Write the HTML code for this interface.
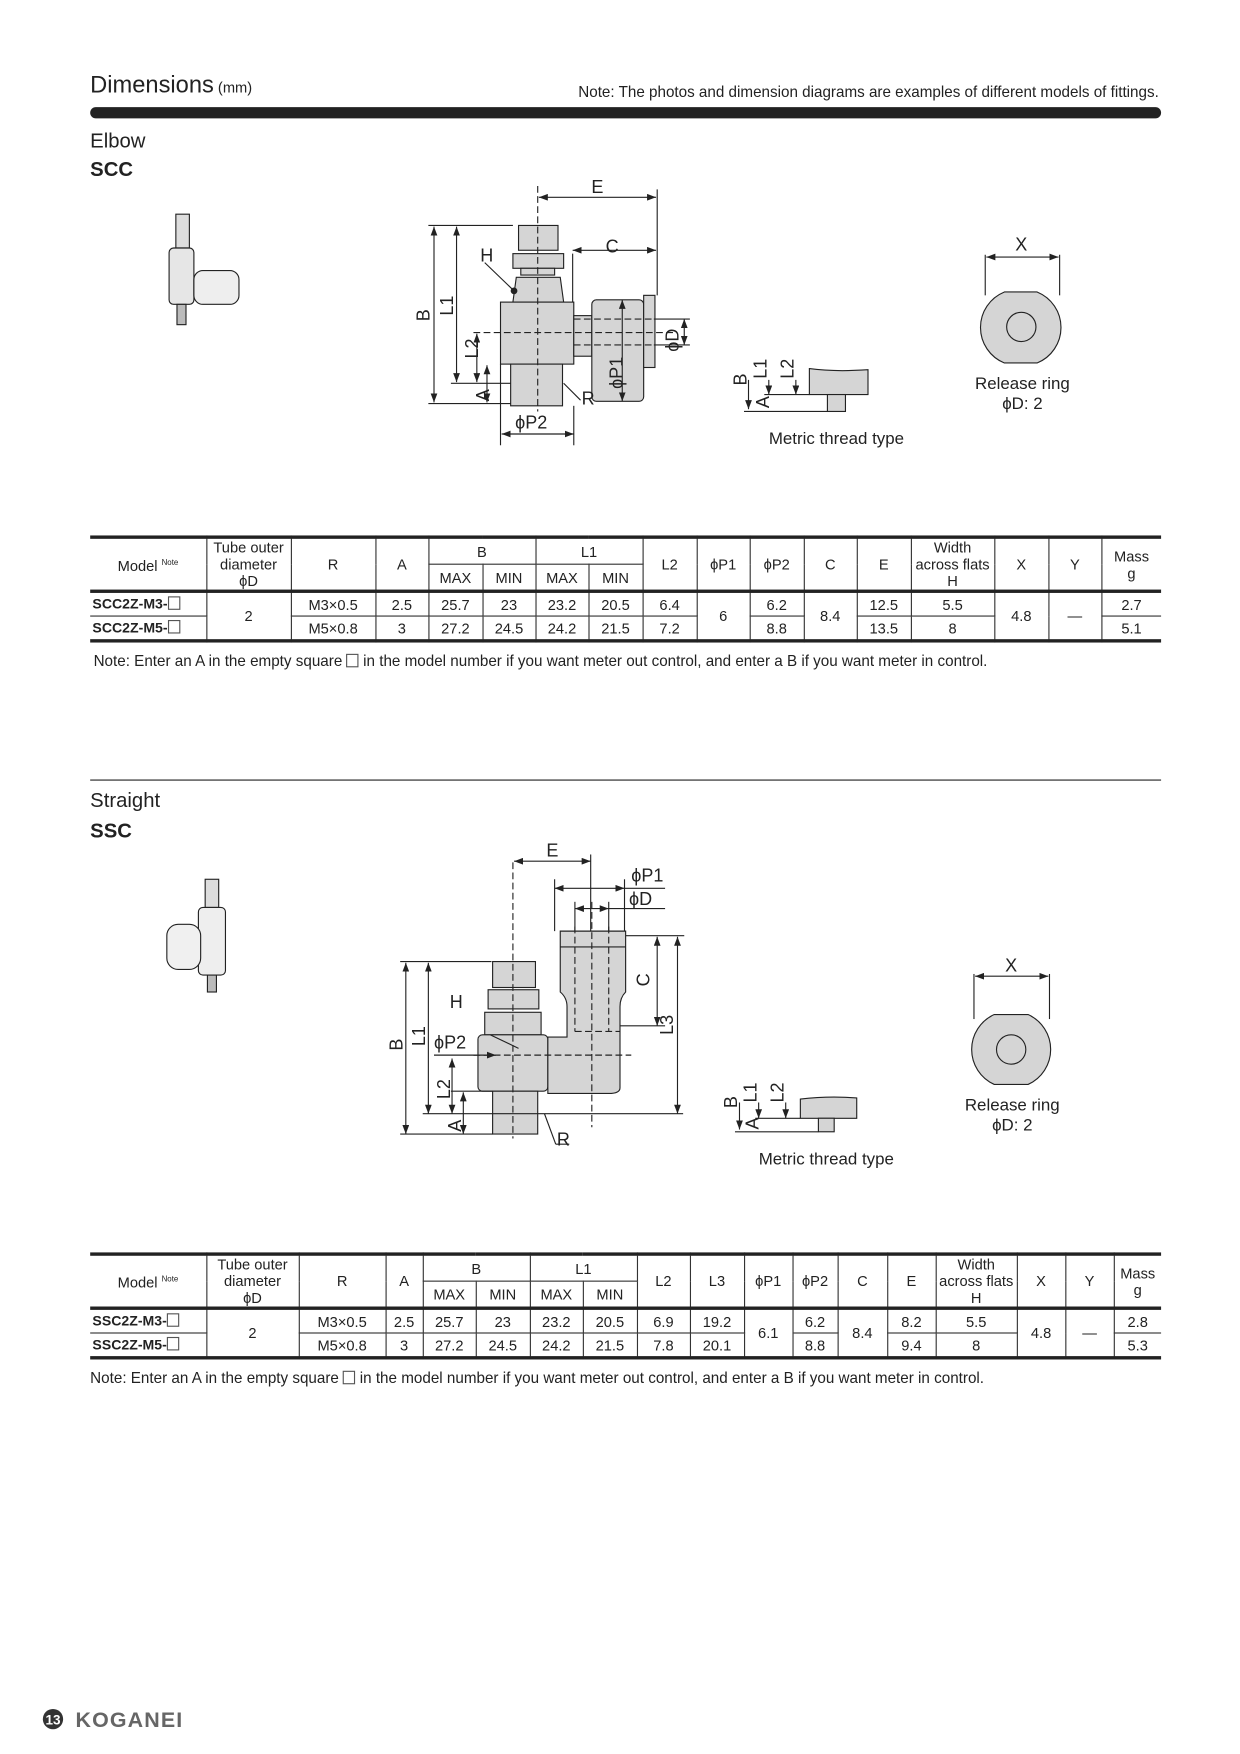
<!DOCTYPE html>
<html><head><meta charset="utf-8">
<style>
html,body{margin:0;padding:0;background:#fff;}
body{width:1240px;height:1754px;overflow:hidden;position:relative;font-family:"Liberation Sans",sans-serif;color:#222;}
#w{position:absolute;left:0;top:0;width:1100px;height:1556px;transform:scale(1.12727);transform-origin:0 0;}
.a{position:absolute;white-space:nowrap;}
table{position:absolute;border-collapse:collapse;font-size:13px;table-layout:fixed;}
td{border:1px solid #333;text-align:center;padding:0;line-height:15px;}
tr.h td{height:20px}
.bt{border-top:3px solid #222}
.bb{border-bottom:3px solid #222}
.sq{display:inline-block;width:9px;height:10px;border:1px solid #555;vertical-align:-1px;}
td.l{text-align:left;font-weight:bold;padding-left:2px;font-size:12.5px}
td:first-child{border-left:none} td:last-child{border-right:none}
</style></head><body><div id="w">
<div class="a" style="left:80px;top:64px;font-size:21px">Dimensions<span style="font-size:13px"> (mm)</span></div>
<div class="a" style="right:72px;top:74px;font-size:13.5px">Note: The photos and dimension diagrams are examples of different models of fittings.</div>
<div class="a" style="left:80px;top:95px;width:950px;height:10px;background:#222;border-radius:5px"></div>
<div class="a" style="left:80px;top:115px;font-size:18px">Elbow</div>
<div class="a" style="left:80px;top:140px;font-size:18px;font-weight:bold">SCC</div>

<svg class="a" style="left:0;top:0" width="1100" height="1556" font-family="Liberation Sans" font-size="16" fill="#222">
<defs><marker id="ar" markerWidth="8" markerHeight="6" refX="8" refY="3" orient="auto-start-reverse"><path d="M0,0L8,3L0,6z" fill="#222"/></marker></defs>
<g stroke="#222" stroke-width="1">
<!-- photo SCC -->
<rect x="156" y="190" width="12" height="30" fill="#ddd"/><rect x="150" y="220" width="22" height="50" rx="4" fill="#e6e6e6"/><rect x="172" y="240" width="40" height="30" rx="8" fill="#eee"/><rect x="157" y="270" width="8" height="18" fill="#bbb"/>
<!-- SCC diagram -->
<g fill="#d5d5d5">
<rect x="460" y="200" width="35" height="22"/><rect x="455" y="225" width="45" height="13"/><rect x="462" y="238" width="30" height="6"/>
<path d="M455,268 L458,246 L497,246 L500,268 Z"/>
<rect x="444" y="268" width="65" height="55"/>
<rect x="453" y="323" width="46" height="37"/>
<rect x="509" y="280" width="16" height="36"/>
<rect x="525" y="266" width="46" height="90" rx="4"/>
<rect x="571" y="262" width="10" height="64"/>
</g>
<g fill="none" stroke-dasharray="6,3"><line x1="477" y1="165" x2="477" y2="365"/><line x1="420" y1="295" x2="600" y2="295"/><line x1="509" y1="283" x2="580" y2="283"/><line x1="509" y1="306" x2="580" y2="306"/></g>
<g fill="none" marker-start="url(#ar)" marker-end="url(#ar)">
<line x1="478" y1="175" x2="582" y2="175"/><line x1="508" y1="222" x2="582" y2="222"/>
<line x1="385" y1="201" x2="385" y2="357"/><line x1="405" y1="201" x2="405" y2="339"/>
<line x1="423" y1="296" x2="423" y2="339"/><line x1="432" y1="324" x2="432" y2="357"/>
<line x1="445" y1="385" x2="509" y2="385"/><line x1="552" y1="266" x2="552" y2="356"/><line x1="607" y1="283" x2="607" y2="306"/>
</g>
<g fill="none"><line x1="583" y1="168" x2="583" y2="262"/><line x1="508" y1="225" x2="508" y2="268"/><line x1="380" y1="200" x2="455" y2="200"/><line x1="380" y1="358" x2="453" y2="358"/><line x1="400" y1="340" x2="453" y2="340"/><line x1="444" y1="323" x2="444" y2="395"/><line x1="509" y1="360" x2="509" y2="395"/><line x1="580" y1="283" x2="612" y2="283"/><line x1="580" y1="306" x2="612" y2="306"/><line x1="500" y1="340" x2="515" y2="355"/><line x1="430" y1="233" x2="456" y2="258"/></g>
<circle cx="456" cy="258" r="2.5"/>
<!-- metric small 1 -->
<path d="M718,327 Q740,330 770,328 L770,350 L718,350 Z" fill="#d5d5d5"/><rect x="734" y="350" width="16" height="15" fill="#d5d5d5"/>
<g fill="none" marker-end="url(#ar)"><line x1="664" y1="337" x2="664" y2="363"/><line x1="682" y1="337" x2="682" y2="350"/><line x1="706" y1="337" x2="706" y2="350"/></g>
<line x1="660" y1="365" x2="734" y2="365"/><line x1="678" y1="350" x2="718" y2="350"/>
<!-- release ring 1 -->
<path d="M891,259 L920,259 A34,34 0 0 1 920,322 L891,322 A34,34 0 0 1 891,259 Z" fill="#d5d5d5"/><circle cx="906" cy="290" r="13" fill="#d5d5d5"/>
<line x1="874" y1="226" x2="874" y2="262"/><line x1="940" y1="226" x2="940" y2="262"/>
<line x1="875" y1="228" x2="939" y2="228" marker-start="url(#ar)" marker-end="url(#ar)"/>

<!-- separator -->
<line x1="80" y1="692" x2="1030" y2="692"/>
<!-- photo SSC -->
<rect x="182" y="780" width="12" height="25" fill="#ddd"/><rect x="176" y="805" width="24" height="60" rx="4" fill="#eee"/><rect x="148" y="820" width="30" height="40" rx="10" fill="#f0f0f0"/><rect x="184" y="865" width="8" height="15" fill="#bbb"/>
<!-- SSC diagram -->
<g fill="#d5d5d5">
<rect x="437" y="853" width="38" height="23"/><rect x="433" y="878" width="45" height="17"/>
<rect x="430" y="898" width="50" height="20"/>
<rect x="424" y="918" width="62" height="50" rx="4"/>
<path d="M486,920 L503,920 L503,893 Q503,885 497,880 L497,826 L555,826 L555,880 Q550,885 550,893 L550,965 Q550,970 540,970 L486,970 Z"/>
<rect x="437" y="968" width="40" height="38"/>
</g>
<line x1="497" y1="840" x2="555" y2="840"/>
<g fill="none" stroke-dasharray="6,3"><line x1="455" y1="765" x2="455" y2="1010"/><line x1="525" y1="800" x2="525" y2="1000"/><line x1="420" y1="936" x2="560" y2="936"/><line x1="510" y1="822" x2="510" y2="915"/><line x1="540" y1="822" x2="540" y2="915"/><line x1="510" y1="915" x2="550" y2="915"/></g>
<g fill="none" marker-start="url(#ar)" marker-end="url(#ar)">
<line x1="456" y1="764" x2="524" y2="764"/><line x1="492" y1="788" x2="554" y2="788"/><line x1="510" y1="806" x2="540" y2="806"/>
<line x1="360" y1="854" x2="360" y2="1006"/><line x1="380" y1="854" x2="380" y2="988"/><line x1="401" y1="939" x2="401" y2="988"/><line x1="411" y1="969" x2="411" y2="1006"/>
<line x1="583" y1="831" x2="583" y2="910"/><line x1="601" y1="831" x2="601" y2="988"/>
</g>
<g fill="none"><line x1="524" y1="758" x2="524" y2="826"/><line x1="492" y1="780" x2="492" y2="826"/><line x1="554" y1="780" x2="554" y2="826"/><line x1="510" y1="800" x2="510" y2="826"/><line x1="540" y1="800" x2="540" y2="826"/><line x1="554" y1="788" x2="590" y2="788"/><line x1="540" y1="806" x2="590" y2="806"/><line x1="555" y1="830" x2="607" y2="830"/><line x1="550" y1="910" x2="590" y2="910"/><line x1="355" y1="853" x2="436" y2="853"/><line x1="355" y1="1006" x2="437" y2="1006"/><line x1="375" y1="988" x2="606" y2="988"/><line x1="400" y1="968" x2="437" y2="968"/><line x1="435" y1="918" x2="460" y2="930"/><line x1="483" y1="988" x2="493" y2="1015"/><line x1="493" y1="1015" x2="505" y2="1015"/></g>
<line x1="385" y1="936" x2="440" y2="936" marker-end="url(#ar)"/>
<!-- metric small 2 -->
<path d="M710,975 Q735,972 760,974 L760,992 L710,992 Z" fill="#d5d5d5"/><rect x="726" y="992" width="14" height="12" fill="#d5d5d5"/>
<g fill="none" marker-end="url(#ar)"><line x1="656" y1="978" x2="656" y2="1002"/><line x1="673" y1="978" x2="673" y2="992"/><line x1="697" y1="978" x2="697" y2="992"/></g>
<line x1="652" y1="1004" x2="726" y2="1004"/><line x1="670" y1="992" x2="710" y2="992"/>
<!-- release ring 2 -->
<path d="M882,900 L912,900 A34,34 0 0 1 912,962 L882,962 A34,34 0 0 1 882,900 Z" fill="#d5d5d5"/><circle cx="897" cy="931" r="13" fill="#d5d5d5"/>
<line x1="864" y1="864" x2="864" y2="904"/><line x1="931" y1="864" x2="931" y2="904"/>
<line x1="865" y1="866" x2="930" y2="866" marker-start="url(#ar)" marker-end="url(#ar)"/>
</g>
<g stroke="none">
<text x="530" y="171" text-anchor="middle">E</text><text x="543" y="224" text-anchor="middle">C</text><text x="426" y="232">H</text>
<text transform="translate(381,285) rotate(-90)">B</text><text transform="translate(402,280) rotate(-90)">L1</text><text transform="translate(424,318) rotate(-90)">L2</text><text transform="translate(434,356) rotate(-90)">A</text>
<text x="516" y="359">R</text><text x="457" y="380">ϕP2</text><text transform="translate(552,345) rotate(-90)">ϕP1</text><text transform="translate(602,312) rotate(-90)">ϕD</text>
<text transform="translate(662,342) rotate(-90)">B</text><text transform="translate(680,336) rotate(-90)">L1</text><text transform="translate(704,336) rotate(-90)">L2</text><text transform="translate(682,362) rotate(-90)">A</text>
<text x="742" y="394" text-anchor="middle" font-size="15">Metric thread type</text>
<text x="906" y="222" text-anchor="middle">X</text><text x="907" y="345" text-anchor="middle" font-size="15">Release ring</text><text x="907" y="363" text-anchor="middle" font-size="15">ϕD: 2</text>

<text x="490" y="760" text-anchor="middle">E</text><text x="560" y="782">ϕP1</text><text x="558" y="803">ϕD</text>
<text transform="translate(576,875) rotate(-90)">C</text><text transform="translate(597,918) rotate(-90)">L3</text><text x="399" y="894">H</text><text x="385" y="930">ϕP2</text>
<text transform="translate(357,932) rotate(-90)">B</text><text transform="translate(377,928) rotate(-90)">L1</text><text transform="translate(399,975) rotate(-90)">L2</text><text transform="translate(409,1004) rotate(-90)">A</text><text x="494" y="1016">R</text>
<text transform="translate(654,983) rotate(-90)">B</text><text transform="translate(671,978) rotate(-90)">L1</text><text transform="translate(695,978) rotate(-90)">L2</text><text transform="translate(673,1002) rotate(-90)">A</text>
<text x="733" y="1033" text-anchor="middle" font-size="15">Metric thread type</text>
<text x="897" y="862" text-anchor="middle">X</text><text x="898" y="985" text-anchor="middle" font-size="15">Release ring</text><text x="898" y="1003" text-anchor="middle" font-size="15">ϕD: 2</text>
<circle cx="47" cy="1525" r="9" fill="#333"/><text x="47" y="1530" text-anchor="middle" font-size="12" fill="#fff" font-weight="bold">13</text>
<text x="67" y="1532" font-size="19" font-weight="bold" fill="#666" letter-spacing="1">KOGANEI</text>
</g>
</svg>

<table style="left:80px;top:475px;width:950px">
<colgroup><col style="width:103px"><col style="width:75px"><col style="width:75px"><col style="width:47px"><col style="width:48px"><col style="width:47px"><col style="width:47px"><col style="width:48px"><col style="width:48px"><col style="width:47px"><col style="width:48px"><col style="width:47px"><col style="width:48px"><col style="width:74px"><col style="width:48px"><col style="width:47px"><col style="width:53px"></colgroup>
<tr class="h bt"><td rowspan="2">Model <sup style="font-size:7px">Note</sup></td><td rowspan="2">Tube outer<br>diameter<br>ϕD</td><td rowspan="2">R</td><td rowspan="2">A</td><td colspan="2">B</td><td colspan="2">L1</td><td rowspan="2">L2</td><td rowspan="2">ϕP1</td><td rowspan="2">ϕP2</td><td rowspan="2">C</td><td rowspan="2">E</td><td rowspan="2">Width<br>across flats<br>H</td><td rowspan="2">X</td><td rowspan="2">Y</td><td rowspan="2">Mass<br>g</td></tr>
<tr class="h bb"><td>MAX</td><td>MIN</td><td>MAX</td><td>MIN</td></tr>
<tr class="h"><td class="l">SCC2Z-M3-<span class="sq"></span></td><td rowspan="2">2</td><td>M3×0.5</td><td>2.5</td><td>25.7</td><td>23</td><td>23.2</td><td>20.5</td><td>6.4</td><td rowspan="2">6</td><td>6.2</td><td rowspan="2">8.4</td><td>12.5</td><td>5.5</td><td rowspan="2">4.8</td><td rowspan="2">—</td><td>2.7</td></tr>
<tr class="h bb"><td class="l">SCC2Z-M5-<span class="sq"></span></td><td>M5×0.8</td><td>3</td><td>27.2</td><td>24.5</td><td>24.2</td><td>21.5</td><td>7.2</td><td>8.8</td><td>13.5</td><td>8</td><td>5.1</td></tr>
</table>
<div class="a" style="left:83px;top:579px;font-size:13.5px">Note: Enter an A in the empty square <span class="sq"></span> in the model number if you want meter out control, and enter a B if you want meter in control.</div>

<div class="a" style="left:80px;top:700px;font-size:18px">Straight</div>
<div class="a" style="left:80px;top:727px;font-size:18px;font-weight:bold">SSC</div>

<table style="left:80px;top:1111px;width:950px">
<colgroup><col style="width:103px"><col style="width:82px"><col style="width:77px"><col style="width:33px"><col style="width:47px"><col style="width:48px"><col style="width:47px"><col style="width:48px"><col style="width:47px"><col style="width:48px"><col style="width:43px"><col style="width:40px"><col style="width:44px"><col style="width:43px"><col style="width:72px"><col style="width:43px"><col style="width:43px"><col style="width:42px"></colgroup>
<tr class="h bt"><td rowspan="2">Model <sup style="font-size:7px">Note</sup></td><td rowspan="2">Tube outer<br>diameter<br>ϕD</td><td rowspan="2">R</td><td rowspan="2">A</td><td colspan="2">B</td><td colspan="2">L1</td><td rowspan="2">L2</td><td rowspan="2">L3</td><td rowspan="2">ϕP1</td><td rowspan="2">ϕP2</td><td rowspan="2">C</td><td rowspan="2">E</td><td rowspan="2">Width<br>across flats<br>H</td><td rowspan="2">X</td><td rowspan="2">Y</td><td rowspan="2">Mass<br>g</td></tr>
<tr class="h bb"><td>MAX</td><td>MIN</td><td>MAX</td><td>MIN</td></tr>
<tr class="h"><td class="l">SSC2Z-M3-<span class="sq"></span></td><td rowspan="2">2</td><td>M3×0.5</td><td>2.5</td><td>25.7</td><td>23</td><td>23.2</td><td>20.5</td><td>6.9</td><td>19.2</td><td rowspan="2">6.1</td><td>6.2</td><td rowspan="2">8.4</td><td>8.2</td><td>5.5</td><td rowspan="2">4.8</td><td rowspan="2">—</td><td>2.8</td></tr>
<tr class="h bb"><td class="l">SSC2Z-M5-<span class="sq"></span></td><td>M5×0.8</td><td>3</td><td>27.2</td><td>24.5</td><td>24.2</td><td>21.5</td><td>7.8</td><td>20.1</td><td>8.8</td><td>9.4</td><td>8</td><td>5.3</td></tr>
</table>
<div class="a" style="left:80px;top:1215px;font-size:13.5px">Note: Enter an A in the empty square <span class="sq"></span> in the model number if you want meter out control, and enter a B if you want meter in control.</div>
</div></body></html>
